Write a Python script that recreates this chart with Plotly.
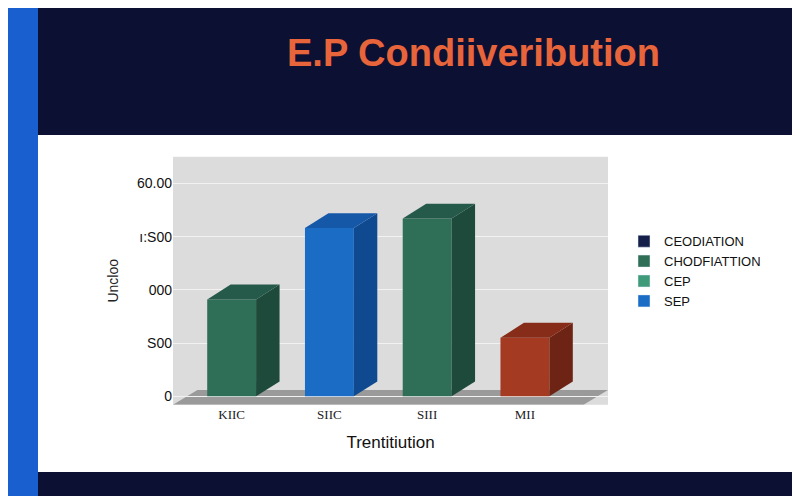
import plotly.graph_objects as go

categories = ["KIIC", "SIIC", "SIII", "MII"]
values = [910, 1580, 1670, 550]
bar_colors = ["#2f6e57", "#1a6cc4", "#2f6e57", "#a53a22"]
side_colors = ["#1d4a3a", "#0f4a90", "#1d4a3a", "#6e2414"]
top_colors = ["#25594a", "#1558a8", "#25594a", "#862c19"]
tick_vals = [0, 500, 1000, 1500, 2000]
tick_text = ["0", "S00", "000", "ı:S00", "60.00"]
legend_names = ["CEODIATION", "CHODFIATTION", "CEP", "SEP"]
legend_colors = ["#14204a", "#2f6e57", "#3f9a7a", "#1a6cc4"]

W = 0.5
DX, DY = 0.24, 140

fig = go.Figure()
for i, (c, v) in enumerate(zip(categories, values)):
    x0, x1 = i - W / 2, i + W / 2
    fig.add_trace(go.Scatter(x=[x1, x1 + DX, x1 + DX, x1, x1], y=[0, DY, v + DY, v, 0],
                             fill="toself", fillcolor=side_colors[i], line=dict(width=0),
                             mode="lines", showlegend=False, hoverinfo="skip"))
    fig.add_trace(go.Scatter(x=[x0, x0 + DX, x1 + DX, x1, x0], y=[v, v + DY, v + DY, v, v],
                             fill="toself", fillcolor=top_colors[i], line=dict(width=0),
                             mode="lines", showlegend=False, hoverinfo="skip"))
fig.add_trace(go.Bar(x=list(range(len(categories))), y=values, width=W,
                     marker=dict(color=bar_colors, line=dict(width=0)), showlegend=False))
for n, col in zip(legend_names, legend_colors):
    fig.add_trace(go.Bar(x=[None], y=[None], name=n, marker_color=col))

shapes = [
    dict(type="rect", xref="paper", yref="paper", x0=0, x1=1, y0=1 - 127 / 496, y1=1,
         fillcolor="#0c1033", line_width=0, layer="below"),
    dict(type="rect", xref="paper", yref="paper", x0=0, x1=1, y0=0, y1=32 / 496,
         fillcolor="#0c1033", line_width=0, layer="below"),
    dict(type="rect", xref="paper", yref="paper", x0=0, x1=30 / 800, y0=0, y1=1,
         fillcolor="#1a5fd0", line_width=0, layer="below"),
    dict(type="path", xref="x", yref="y",
         path="M -0.6,-80 L 3.6,-80 L 3.85,60 L -0.35,60 Z",
         fillcolor="#9a9a9a", line_width=0, layer="below"),
]

fig.update_layout(
    width=800, height=496, margin=dict(l=0, r=0, t=0, b=0),
    paper_bgcolor="white", plot_bgcolor="#dcdcdc", barmode="overlay",
    shapes=shapes,
    xaxis=dict(domain=[165 / 800, 600 / 800], range=[-0.6, 3.85], tickvals=list(range(4)),
               ticktext=categories, showgrid=False, zeroline=False,
               tickfont=dict(family="Liberation Serif", size=13, color="#222"),
               title=dict(text="Trentitiution", font=dict(family="Liberation Sans", size=17, color="#111"))),
    yaxis=dict(domain=[0.2, 0.70], range=[-80, 2250], tickvals=tick_vals, ticktext=tick_text,
               gridcolor="#f2f2f2", zeroline=False,
               tickfont=dict(family="Liberation Sans", size=14, color="#111"),
               title=dict(text="Uncloo", font=dict(family="Liberation Sans", size=14, color="#222"))),
    legend=dict(x=0.77, y=0.56, xanchor="left", yanchor="top",
                font=dict(family="Liberation Sans", size=13, color="#111"), bgcolor="rgba(0,0,0,0)"),
    annotations=[dict(text="<b>E.P Condiiveribution</b>", xref="paper", yref="paper",
                      x=465 / 800, y=0.91, yanchor="middle", showarrow=False,
                      font=dict(family="Liberation Sans", size=38, color="#e8643a"))],
)
fig.write_html("out.html")
